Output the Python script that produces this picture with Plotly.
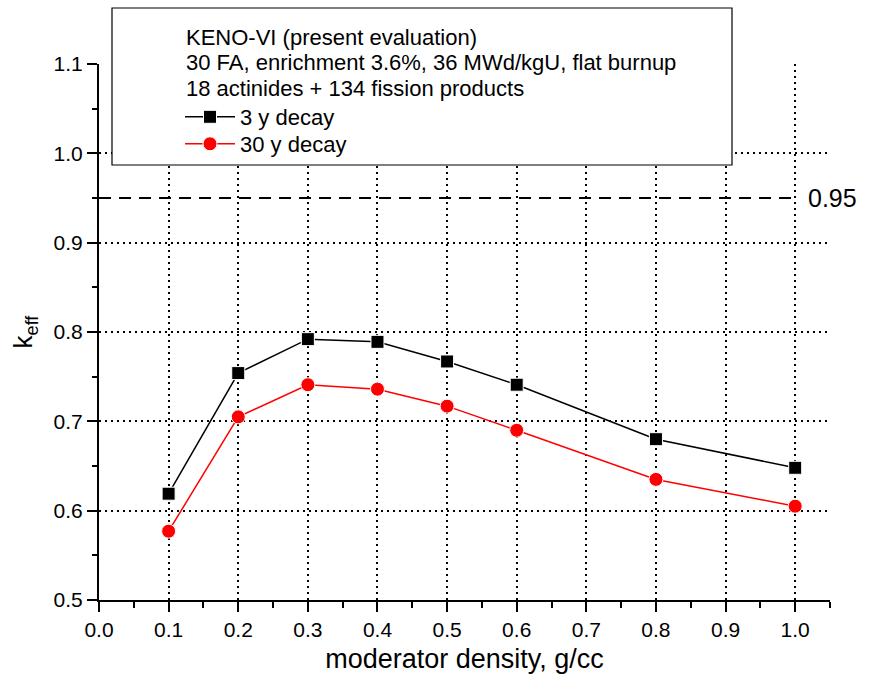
import plotly.graph_objects as go

# moderator density (g/cc) and k_eff for two decay times
density = [0.1, 0.2, 0.3, 0.4, 0.5, 0.6, 0.8, 1.0]
keff_3y = [0.619, 0.754, 0.792, 0.789, 0.767, 0.741, 0.680, 0.648]
keff_30y = [0.577, 0.705, 0.741, 0.736, 0.717, 0.690, 0.635, 0.605]

limit_value = 0.95
limit_x = [0.0, 1.0]

x_ticks = [round(0.1 * i, 1) for i in range(11)]
y_ticks = [0.5, 0.6, 0.7, 0.8, 0.9, 1.0, 1.1]

header_lines = [
    "KENO-VI (present evaluation)",
    "30 FA, enrichment 3.6%, 36 MWd/kgU, flat burnup",
    "18 actinides + 134 fission products",
]

FONT = "Liberation Sans, Arial, sans-serif"
L, R, T, B = 99, 43, 64, 90
W, H = 873, 690
PW, PH = W - L - R, H - T - B


def px_x(px):
    return (px - L) / PW


def px_y(py):
    return (H - B - py) / PH


fig = go.Figure()

fig.add_trace(go.Scatter(
    x=limit_x, y=[limit_value, limit_value], mode="lines",
    line=dict(color="black", width=2, dash="12px,8px"),
    showlegend=False, hoverinfo="skip",
))

fig.add_trace(go.Scatter(
    x=density, y=keff_3y, mode="lines+markers", name="3 y decay",
    line=dict(color="black", width=1.5),
    marker=dict(symbol="square", size=13, color="black",
                line=dict(color="white", width=1)),
    legend="legend",
))

fig.add_trace(go.Scatter(
    x=density, y=keff_30y, mode="lines+markers", name="30 y decay",
    line=dict(color="red", width=1.5),
    marker=dict(symbol="circle", size=14, color="red",
                line=dict(color="white", width=1)),
    legend="legend2",
))

# white framed box holding the legend
fig.add_shape(
    type="rect", xref="paper", yref="paper",
    x0=px_x(112), x1=px_x(732), y0=px_y(165), y1=px_y(8),
    line=dict(color="black", width=1.2), fillcolor="white", layer="above",
)

for i, line in enumerate(header_lines):
    fig.add_annotation(
        x=px_x(184), y=px_y(37 + 25.5 * i), xref="paper", yref="paper",
        text=line, showarrow=False, xanchor="left", yanchor="middle",
        font=dict(family=FONT, size=22, color="black"),
    )

fig.add_annotation(
    x=1.015, y=limit_value, xref="x", yref="y",
    text="0.95", showarrow=False, xanchor="left", yanchor="middle",
    font=dict(family=FONT, size=25, color="black"),
)

axis_common = dict(
    showline=True, linecolor="black", linewidth=2,
    ticks="outside", ticklen=10, tickwidth=2, tickcolor="black",
    showgrid=True, gridcolor="black", gridwidth=1.5, griddash="2px,4px",
    zeroline=False, mirror=False,
    tickfont=dict(family=FONT, size=21, color="black"),
)

fig.update_xaxes(
    range=[0, 1.05], tickvals=x_ticks, ticktext=[f"{v:.1f}" for v in x_ticks],
    minor=dict(dtick=0.05, tick0=0.05, ticks="outside", ticklen=6,
               tickwidth=2, tickcolor="black", showgrid=False),
    title=dict(text="moderator density, g/cc", standoff=9,
               font=dict(family=FONT, size=27, color="black")),
    **axis_common,
)
fig.update_yaxes(
    range=[0.5, 1.1], tickvals=y_ticks, ticktext=[f"{v:.1f}" for v in y_ticks],
    minor=dict(dtick=0.05, tick0=0.55, ticks="outside", ticklen=5,
               tickwidth=2, tickcolor="black", showgrid=False),
    title=dict(text="k<sub>eff</sub>", standoff=13,
               font=dict(family=FONT, size=26, color="black")),
    **axis_common,
)

legend_style = dict(
    font=dict(family=FONT, size=22, color="black"),
    xanchor="left", yanchor="top",
    bgcolor="rgba(0,0,0,0)", borderwidth=0, itemwidth=50,
)

fig.update_layout(
    width=W, height=H,
    margin=dict(l=L, r=R, t=T, b=B),
    plot_bgcolor="white", paper_bgcolor="white",
    font=dict(family=FONT, color="black"),
    legend=dict(x=px_x(180), y=px_y(96), **legend_style),
    legend2=dict(x=px_x(180), y=px_y(123), **legend_style),
)

fig.write_html("out.html")
